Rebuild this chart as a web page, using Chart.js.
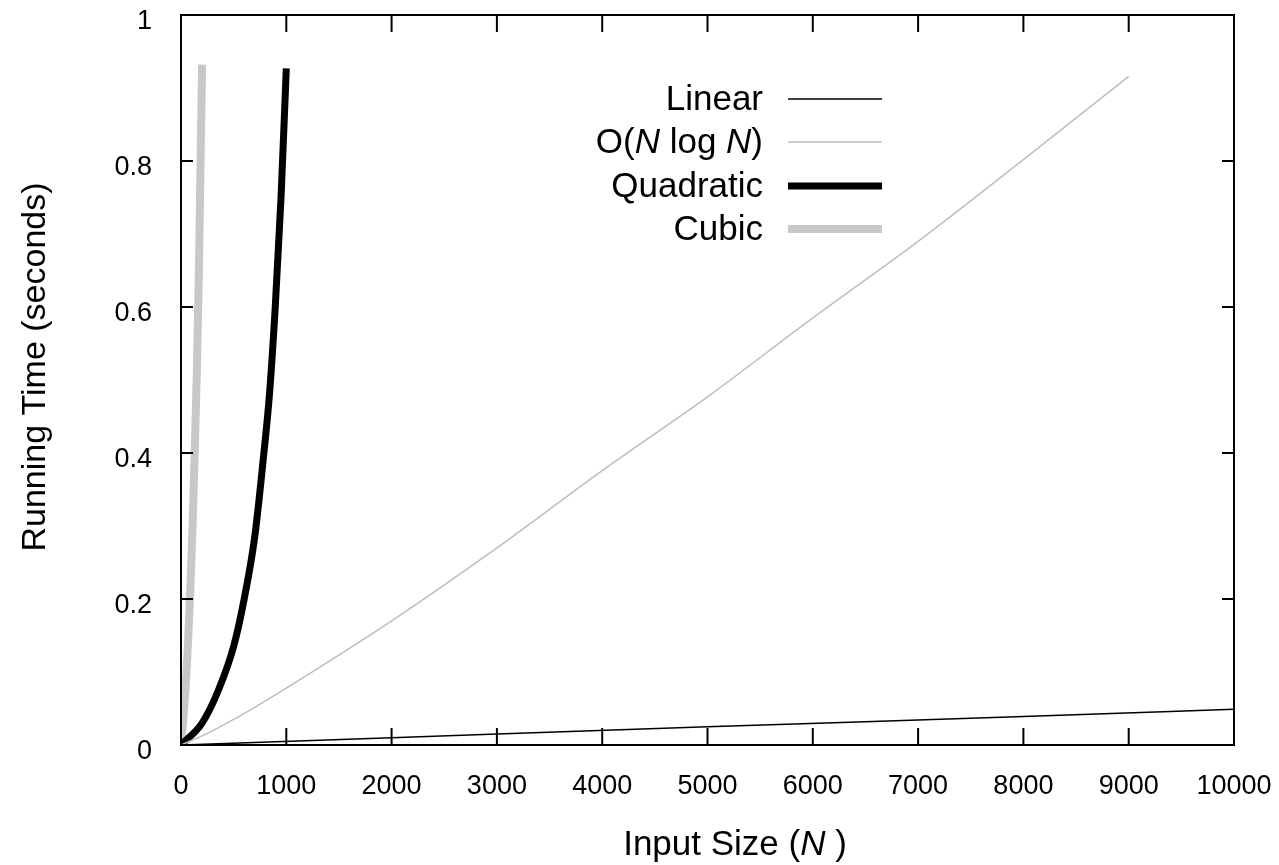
<!DOCTYPE html>
<html>
<head>
<meta charset="utf-8">
<title>Running Time</title>
<script src="https://cdn.jsdelivr.net/npm/chart.js@4.4.0/dist/chart.umd.min.js"></script>
<style>
    body { margin: 0; background: #fff; }
    #wrap { width: 1279px; height: 865px; position: relative; }
</style>
</head>
<body>
<div id="wrap"><canvas id="myChart"></canvas></div>
<script>
// values (N, seconds)
const linearN = [0, 2000, 5000, 8000, 10000];
const linearT = [0, 0.01, 0.025, 0.039, 0.049];

const nlognN = [0, 250, 500, 1000, 2000, 3000, 4000, 5000, 6000, 7000, 8000, 9000];
const nlognT = [0, 0.016, 0.035, 0.078, 0.17, 0.27, 0.376, 0.477, 0.585, 0.69, 0.802, 0.916];

const quadN = [0, 200, 355, 500, 600, 700, 780, 840, 895, 950, 1000];
const quadT = [0, 0.03, 0.075, 0.135, 0.2, 0.285, 0.39, 0.48, 0.6, 0.75, 0.927];

const cubicN = [0, 30, 60, 85, 110, 130, 150, 170, 190, 201];
const cubicT = [0, 0.05, 0.12, 0.2, 0.3, 0.4, 0.51, 0.65, 0.84, 0.932];

const xTicks = [0, 1000, 2000, 3000, 4000, 5000, 6000, 7000, 8000, 9000, 10000];
const yTicks = [0, 0.2, 0.4, 0.6, 0.8, 1];

const seriesNames = ['Linear', 'O(N log N)', 'Quadratic', 'Cubic'];

const FONT = '"Liberation Sans", Arial, Helvetica, sans-serif';
Chart.defaults.font.family = FONT;
Chart.defaults.color = '#000';

function toPoints(ns, ts) {
    return ns.map((n, i) => ({ x: n, y: ts[i] }));
}

// draws a row of text pieces, some of them italic
function drawRuns(ctx, runs, x, y, size, align) {
    const fontOf = (r) => (r.italic ? 'italic ' : '') + size + 'px ' + FONT;
    let total = 0;
    runs.forEach((r) => {
        ctx.font = fontOf(r);
        total += ctx.measureText(r.text).width;
    });
    let cx = x;
    if (align === 'right') cx = x - total;
    else if (align === 'center') cx = x - total / 2;
    ctx.textAlign = 'left';
    ctx.textBaseline = 'alphabetic';
    runs.forEach((r) => {
        ctx.font = fontOf(r);
        ctx.fillText(r.text, cx, y);
        cx += ctx.measureText(r.text).width;
    });
}

// box, inward ticks on all four sides, tick labels
const framePlugin = {
    id: 'frame',
    afterDatasetsDraw(chart) {
        const { ctx, chartArea: a, scales } = chart;
        ctx.save();
        ctx.strokeStyle = '#000';
        ctx.lineWidth = 2;
        ctx.beginPath();
        xTicks.forEach((v) => {
            const px = scales.x.getPixelForValue(v);
            ctx.moveTo(px, a.bottom);
            ctx.lineTo(px, a.bottom - 17);
            ctx.moveTo(px, a.top);
            ctx.lineTo(px, a.top + 17);
        });
        yTicks.forEach((v) => {
            const py = scales.y.getPixelForValue(v);
            ctx.moveTo(a.left, py);
            ctx.lineTo(a.left + 12, py);
            ctx.moveTo(a.right, py);
            ctx.lineTo(a.right - 12, py);
        });
        ctx.stroke();
        ctx.strokeRect(a.left, a.top, a.right - a.left, a.bottom - a.top);

        ctx.fillStyle = '#000';
        ctx.font = '27px ' + FONT;
        ctx.textBaseline = 'alphabetic';
        ctx.textAlign = 'center';
        xTicks.forEach((v) => {
            ctx.fillText(String(v), scales.x.getPixelForValue(v), a.bottom + 49);
        });
        ctx.textAlign = 'right';
        yTicks.forEach((v) => {
            ctx.fillText(String(v), a.left - 29, scales.y.getPixelForValue(v) + 14);
        });
        ctx.restore();
    },
};

const textPlugin = {
    id: 'texts',
    afterDraw(chart) {
        const { ctx } = chart;
        ctx.save();
        ctx.fillStyle = '#000';

        // y title
        ctx.save();
        ctx.translate(45, 367);
        ctx.rotate(-Math.PI / 2);
        drawRuns(ctx, [{ text: 'Running Time (seconds)' }], 0, 0, 34, 'center');
        ctx.restore();

        // x title
        drawRuns(ctx, [{ text: 'Input Size (' }, { text: 'N', italic: true }, { text: ' )' }], 735, 855, 35, 'center');

        // legend: label on the left, line sample on the right
        const labelRuns = [
            [{ text: seriesNames[0] }],
            [{ text: 'O(' }, { text: 'N', italic: true }, { text: ' log ' }, { text: 'N', italic: true }, { text: ')' }],
            [{ text: seriesNames[2] }],
            [{ text: seriesNames[3] }],
        ];
        const rowY = [99, 142, 186, 229];
        chart.data.datasets.forEach((ds, i) => {
            drawRuns(ctx, labelRuns[i], 763, rowY[i] + 11, 35, 'right');
            ctx.beginPath();
            ctx.strokeStyle = ds.borderColor;
            ctx.lineWidth = ds.borderWidth;
            ctx.lineCap = 'butt';
            ctx.moveTo(788, rowY[i]);
            ctx.lineTo(882, rowY[i]);
            ctx.stroke();
        });
        ctx.restore();
    },
};

const ctx = document.getElementById('myChart').getContext('2d');
const myChart = new Chart(ctx, {
    type: 'line',
    data: {
        datasets: [
            { label: seriesNames[0], data: toPoints(linearN, linearT), borderColor: '#000000', borderWidth: 1.5 },
            { label: seriesNames[1], data: toPoints(nlognN, nlognT), borderColor: '#bdbdbd', borderWidth: 1.5 },
            { label: seriesNames[2], data: toPoints(quadN, quadT), borderColor: '#000000', borderWidth: 7 },
            { label: seriesNames[3], data: toPoints(cubicN, cubicT), borderColor: '#c8c8c8', borderWidth: 8 },
        ],
    },
    options: {
        responsive: true,
        maintainAspectRatio: false,
        animation: false,
        layout: { padding: { top: 15, right: 45, bottom: 0, left: 0 } },
        elements: {
            point: { radius: 0, hoverRadius: 0 },
            line: { cubicInterpolationMode: 'monotone', fill: false, borderCapStyle: 'butt' },
        },
        plugins: {
            legend: { display: false },
            tooltip: { enabled: false },
        },
        scales: {
            x: {
                type: 'linear',
                min: 0,
                max: 10000,
                afterFit: (scale) => { scale.height = 120; },
                grid: { display: false },
                border: { display: false },
                ticks: { display: false },
            },
            y: {
                type: 'linear',
                min: 0,
                max: 1,
                afterFit: (scale) => { scale.width = 181; },
                grid: { display: false },
                border: { display: false },
                ticks: { display: false },
            },
        },
    },
    plugins: [framePlugin, textPlugin],
});
</script>
</body>
</html>
